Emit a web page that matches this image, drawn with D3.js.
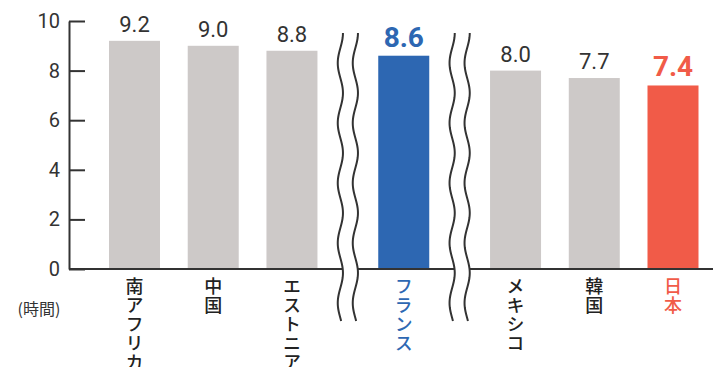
<!DOCTYPE html>
<html>
<head>
<meta charset="utf-8">
<script src="https://cdn.jsdelivr.net/npm/d3@7"></script>
<style>
  body { margin: 0; background: #fff; }
  svg { display: block; }
</style>
</head>
<body>
<div id="chart"></div>
<script>
// Data
const categories = ["南アフリカ", "中国", "エストニア", "フランス", "メキシコ", "韓国", "日本"];
const values = [9.2, 9.0, 8.8, 8.6, 8.0, 7.7, 7.4];
const segments = [0, 0, 0, 1, 2, 2, 2];   // bars separated by the wavy break marks
const highlighted = ["フランス", "日本"];
const yTicks = [0, 2, 4, 6, 8, 10];
const unitLabel = "(時間)";

const W = 713, H = 367;
const numFont = "Roboto, 'DejaVu Sans', sans-serif";
const jpFont = "'Noto Sans CJK JP', 'Noto Sans', sans-serif";

const colorOf = name => name === "フランス" ? "#2d67b2" : name === "日本" ? "#f15b48" : "#cdc9c8";
const textColorOf = name => name === "フランス" ? "#2d67b2" : name === "日本" ? "#f15b48" : "#222";

const svg = d3.select("#chart").append("svg")
  .attr("width", W).attr("height", H);

// Scales
const gap = 0.42;   // extra slot width added at each break
const slot = (d, i) => i + segments[i] * gap;
const x = d3.scaleLinear()
  .domain([0, slot(null, values.length - 1)])
  .range([134.5, 673]);
const y = d3.scaleLinear().domain([0, 10]).range([269, 21]);
const barW = 51;

// Bars
svg.append("g").selectAll("rect")
  .data(values)
  .join("rect")
    .attr("x", (d, i) => x(slot(d, i)) - barW / 2)
    .attr("y", d => y(d))
    .attr("width", barW)
    .attr("height", d => y(0) - y(d))
    .attr("fill", (d, i) => colorOf(categories[i]));

// Value labels
svg.append("g").selectAll("text")
  .data(values)
  .join("text")
    .attr("x", (d, i) => x(slot(d, i)))
    .attr("y", d => y(d) - 9)
    .attr("text-anchor", "middle")
    .attr("font-family", numFont)
    .attr("font-size", (d, i) => highlighted.includes(categories[i]) ? 28 : 22)
    .attr("font-weight", (d, i) => highlighted.includes(categories[i]) ? 700 : 400)
    .attr("fill", (d, i) => highlighted.includes(categories[i]) ? colorOf(categories[i]) : "#333")
    .text(d => d.toFixed(1));

// Baseline
svg.append("line")
  .attr("x1", 69).attr("x2", W)
  .attr("y1", y(0)).attr("y2", y(0))
  .attr("stroke", "#333").attr("stroke-width", 2);

// Y axis (ticks pointing inward)
const yAxis = svg.append("g")
  .attr("transform", "translate(69,0)")
  .call(d3.axisLeft(y).tickValues(yTicks).tickSizeInner(-16).tickSizeOuter(0).tickPadding(9));
yAxis.select(".domain").attr("stroke", "#333").attr("stroke-width", 2);
yAxis.selectAll(".tick line").attr("stroke", "#333").attr("stroke-width", 2);
yAxis.selectAll(".tick text")
  .attr("font-family", numFont)
  .attr("font-size", 20)
  .attr("fill", "#333");

// Unit label
svg.append("text")
  .attr("x", 39).attr("y", 315)
  .attr("text-anchor", "middle")
  .attr("font-family", jpFont)
  .attr("font-size", 16)
  .attr("fill", "#333")
  .text(unitLabel);

// Category labels (vertical)
svg.append("g").selectAll("text")
  .data(categories)
  .join("text")
    .attr("x", (d, i) => x(slot(d, i)))
    .attr("y", 277)
    .attr("writing-mode", "vertical-rl")
    .attr("text-anchor", "start")
    .attr("font-family", jpFont)
    .attr("font-size", 18)
    .attr("font-weight", 500)
    .attr("letter-spacing", 1)
    .attr("fill", d => textColorOf(d))
    .text(d => d);

// Break marks: pairs of wavy lines between segments
const breaks = [];
for (let i = 1; i < values.length; i++) {
  if (segments[i] !== segments[i - 1]) {
    breaks.push((x(slot(null, i - 1)) + x(slot(null, i))) / 2);
  }
}
const waveTop = 33, waveBottom = 321, period = 60, amp = 2.6, half = 7.5;
const wavePts = d3.range(waveTop, waveBottom + 0.1, 1)
  .map(v => [amp * Math.cos((v - waveTop) / period * 2 * Math.PI), v]);
const waveLine = d3.line().x(p => p[0]).y(p => p[1]);

const breakG = svg.append("g").selectAll("g")
  .data(breaks)
  .join("g")
    .attr("transform", d => `translate(${d},0)`);
// white fill between the two lines hides the baseline
breakG.append("path")
  .attr("d", () => {
    const left = wavePts.map(p => [p[0] - half, p[1]]);
    const right = wavePts.map(p => [p[0] + half, p[1]]).reverse();
    return d3.line()(left.concat(right)) + "Z";
  })
  .attr("fill", "#fff");
[-half, half].forEach(off => {
  breakG.append("path")
    .attr("d", waveLine(wavePts.map(p => [p[0] + off, p[1]])))
    .attr("fill", "none")
    .attr("stroke", "#333")
    .attr("stroke-width", 2);
});
</script>
</body>
</html>
